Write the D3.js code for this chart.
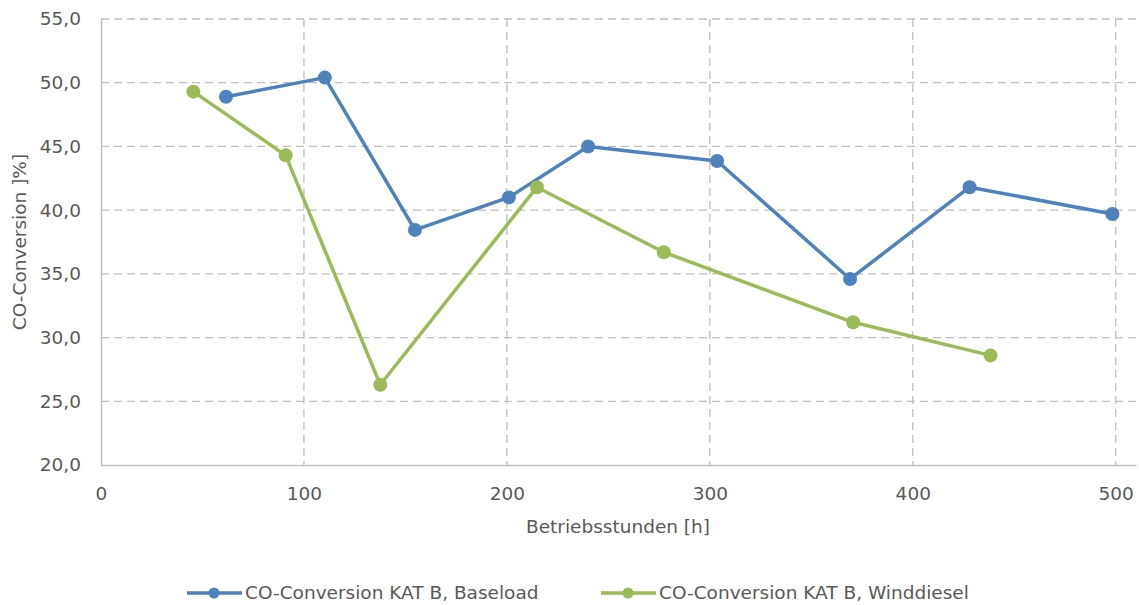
<!DOCTYPE html>
<html><head><meta charset="utf-8">
<script src="https://cdn.jsdelivr.net/npm/d3@7"></script>
<style>body{margin:0;background:#fff}svg{display:block}text{font-family:"DejaVu Sans",sans-serif;fill:#595959}</style>
</head><body><svg id="c" width="1139" height="605"></svg>
<script>
const baseX = [61.6, 110.3, 154.7, 201, 240, 303.6, 369.1, 428, 498.4];
const baseY = [48.9, 50.4, 38.45, 41.0, 45.0, 43.86, 34.6, 41.8, 39.7];
const windX = [45.5, 91, 137.6, 214.8, 277.3, 370.6, 438.3];
const windY = [49.3, 44.3, 26.3, 41.8, 36.7, 31.2, 28.6];
const xTicks = [0, 100, 200, 300, 400, 500];
const yTicks = [20, 25, 30, 35, 40, 45, 50, 55];
const seriesNames = ["CO-Conversion KAT B, Baseload", "CO-Conversion KAT B, Winddiesel"];
const colors = ["#4F81BD", "#9BBB59"];

const FS = 18.5;
const svg = d3.select("#c");
const x = d3.scaleLinear().domain([0, 510]).range([101, 1136]);
const y = d3.scaleLinear().domain([20, 55]).range([465, 19]);
const fmt = v => d3.format(".1f")(v).replace(".", ",");

// grid
svg.append("g").selectAll("line").data(yTicks.slice(1)).join("line")
  .attr("x1", x(0)).attr("x2", x(510)).attr("y1", d => y(d)).attr("y2", d => y(d))
  .attr("stroke", "#BFBFBF").attr("stroke-width", 1.3).attr("stroke-dasharray", "8,5");
svg.append("g").selectAll("line").data(xTicks.slice(1)).join("line")
  .attr("x1", d => x(d)).attr("x2", d => x(d)).attr("y1", y(55)).attr("y2", y(20))
  .attr("stroke", "#BFBFBF").attr("stroke-width", 1.3).attr("stroke-dasharray", "8,5");

// axes
const xAxis = svg.append("g").attr("transform", `translate(0,${y(20)})`)
  .call(d3.axisBottom(x).tickValues(xTicks).tickSize(0).tickPadding(22).tickFormat(d3.format("d")));
xAxis.select(".domain").attr("stroke", "#BFBFBF").attr("stroke-width", 1.5);
xAxis.selectAll("text").attr("font-size", FS).style("fill", "#595959");
const yAxis = svg.append("g").attr("transform", `translate(${x(0)},0)`)
  .call(d3.axisLeft(y).tickValues(yTicks).tickSize(0).tickPadding(20).tickFormat(fmt));
yAxis.select(".domain").attr("stroke", "#BFBFBF").attr("stroke-width", 1.5);
yAxis.selectAll("text").attr("font-size", FS).style("fill", "#595959");

// titles
svg.append("text").attr("x", 618).attr("y", 533).attr("text-anchor", "middle")
  .attr("font-size", FS).text("Betriebsstunden [h]");
svg.append("text").attr("transform", "translate(26,242) rotate(-90)").attr("text-anchor", "middle")
  .attr("font-size", FS).text("CO-Conversion ]%]");

// series
const series = [
  {xs: baseX, ys: baseY},
  {xs: windX, ys: windY}
];
const line = d3.line().x(d => x(d[0])).y(d => y(d[1]));
series.forEach((s, i) => {
  const pts = s.xs.map((v, j) => [v, s.ys[j]]);
  svg.append("path").datum(pts).attr("d", line).attr("fill", "none")
    .attr("stroke", colors[i]).attr("stroke-width", 3.5).attr("stroke-linejoin", "round");
  svg.append("g").selectAll("circle").data(pts).join("circle")
    .attr("cx", d => x(d[0])).attr("cy", d => y(d[1])).attr("r", 7).attr("fill", colors[i]);
});

// legend
const legX = [187, 601];
seriesNames.forEach((n, i) => {
  const g = svg.append("g").attr("transform", `translate(${legX[i]},593)`);
  g.append("line").attr("x1", 0).attr("x2", 55).attr("stroke", colors[i]).attr("stroke-width", 3.5);
  g.append("circle").attr("cx", 27).attr("r", 5.5).attr("fill", colors[i]);
  g.append("text").attr("x", 58).attr("y", 6).attr("font-size", FS).text(n);
});
</script></body></html>
